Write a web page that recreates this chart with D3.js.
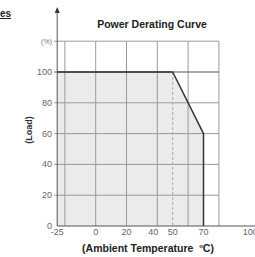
<!DOCTYPE html>
<html>
<head>
<meta charset="utf-8">
<script src="https://cdn.jsdelivr.net/npm/d3@7.9.0/dist/d3.min.js"></script>
<style>
  body { margin: 0; background: #fff; }
  svg { display: block; font-family: Arial, "Liberation Sans", sans-serif; }
</style>
</head>
<body>
<svg id="chart" width="255" height="257"></svg>
<script>
// derating curve: ambient temperature (°C) vs load (%)
const temps = [-25, 50, 70, 70];
const loads = [100, 100, 60, 0];

const xTicks = [-25, 0, 20, 40, 50, 70, 100];
const yTicks = [0, 20, 40, 60, 80, 100];
const xGrid = [-20, 0, 20, 40, 60, 80];
const yGrid = [20, 40, 60, 80, 100, 120];
const dashedAt = 50;

const svg = d3.select('#chart');

const x = d3.scaleLinear().domain([-25, 100]).range([57.2, 249.7]);
const y = d3.scaleLinear().domain([0, 100]).range([226, 72]);

const curve = temps.map((t, i) => ({ t, l: loads[i] }));

// shaded area under the curve
svg.append('path')
  .datum(curve)
  .attr('fill', '#ebebeb')
  .attr('d', d3.area().x(d => x(d.t)).y0(y(0)).y1(d => y(d.l)));

// grid
svg.append('g')
  .selectAll('line')
  .data(xGrid)
  .join('line')
  .attr('x1', d => x(d)).attr('x2', d => x(d))
  .attr('y1', y(0)).attr('y2', y(120))
  .attr('stroke', '#9a9a9a')
  .attr('stroke-width', 1);

svg.append('g')
  .selectAll('line')
  .data(yGrid)
  .join('line')
  .attr('x1', x(-25) - 3).attr('x2', x(80))
  .attr('y1', d => y(d)).attr('y2', d => y(d))
  .attr('stroke', d => d === 100 ? '#555' : '#9a9a9a')
  .attr('stroke-width', 1);

// dashed marker at 50
svg.append('line')
  .attr('x1', x(dashedAt)).attr('x2', x(dashedAt))
  .attr('y1', y(100)).attr('y2', y(0))
  .attr('stroke', '#aaa')
  .attr('stroke-width', 1)
  .attr('stroke-dasharray', '3,2');

// the curve itself
svg.append('path')
  .datum(curve)
  .attr('fill', 'none')
  .attr('stroke', '#333')
  .attr('stroke-width', 1.5)
  .attr('stroke-linejoin', 'round')
  .attr('d', d3.line().x(d => x(d.t)).y(d => y(d.l)));

// axes
svg.append('line')
  .attr('x1', x(-25)).attr('x2', 255)
  .attr('y1', y(0)).attr('y2', y(0))
  .attr('stroke', '#555').attr('stroke-width', 1);
svg.append('line')
  .attr('x1', x(-25)).attr('x2', x(-25))
  .attr('y1', y(0)).attr('y2', 10)
  .attr('stroke', '#555').attr('stroke-width', 1);
svg.append('path')
  .attr('d', `M${x(-25)},7 L${x(-25) - 2.5},13 L${x(-25) + 2.5},13 Z`)
  .attr('fill', '#333');

// tick labels
svg.append('g')
  .selectAll('text')
  .data(yTicks)
  .join('text')
  .attr('x', 52)
  .attr('y', d => y(d) + 3)
  .attr('text-anchor', 'end')
  .attr('font-size', 9)
  .attr('fill', '#666')
  .text(d => d);

svg.append('text')
  .attr('x', 52).attr('y', y(120) + 3)
  .attr('text-anchor', 'end')
  .attr('font-size', 7)
  .attr('fill', '#777')
  .text('(%)');

svg.append('g')
  .selectAll('text')
  .data(xTicks)
  .join('text')
  .attr('x', d => d === 40 ? x(d) - 4 : x(d))
  .attr('y', 235)
  .attr('text-anchor', d => d === 100 ? 'start' : 'middle')
  .attr('dx', d => d === 100 ? -7 : 0)
  .attr('font-size', 9)
  .attr('fill', '#666')
  .text(d => d);

// titles
svg.append('text')
  .attr('x', 152).attr('y', 28)
  .attr('text-anchor', 'middle')
  .attr('font-size', 10.5)
  .attr('font-weight', 'bold')
  .attr('fill', '#222')
  .text('Power Derating Curve');

svg.append('text')
  .attr('transform', 'translate(32,130) rotate(-90)')
  .attr('text-anchor', 'middle')
  .attr('font-size', 9)
  .attr('font-weight', 'bold')
  .attr('fill', '#333')
  .text('(Load)');

const xl = svg.append('text')
  .attr('x', 148).attr('y', 252)
  .attr('text-anchor', 'middle')
  .attr('font-size', 10.5)
  .attr('font-weight', 'bold')
  .attr('fill', '#222');
xl.append('tspan').text('(Ambient Temperature\u00a0\u00a0');
xl.append('tspan').attr('font-size', 6).attr('dy', -4).text('o');
xl.append('tspan').attr('dy', 4).text('C)');

svg.append('text')
  .attr('x', 0).attr('y', 17)
  .attr('font-size', 10)
  .attr('font-weight', 'bold')
  .attr('fill', '#222')
  .attr('text-decoration', 'underline')
  .text('es');
</script>
</body>
</html>
